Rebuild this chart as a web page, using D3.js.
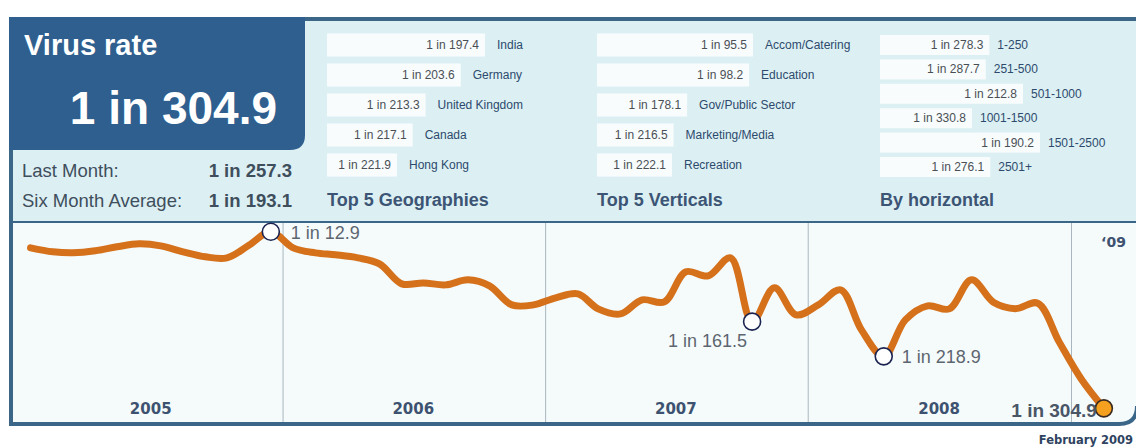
<!DOCTYPE html>
<html>
<head>
<meta charset="utf-8">
<script src="https://cdn.jsdelivr.net/npm/d3@7"></script>
<style>
  html, body { margin: 0; padding: 0; background: #ffffff; }
  svg { display: block; }
</style>
</head>
<body>
<svg id="chart" width="1136" height="448"></svg>
<script>
// ---------------- DATA ----------------
const currentRate = 304.9;
const lastMonth = 257.3;
const sixMonthAvg = 193.1;

// Monthly "1 in N" virus rate, Jan 2005 .. Feb 2009
const monthlyRates = [
  39.4, 46.0, 47.7, 44.4, 37.7, 32.8, 36.1, 46.0, 54.3, 56.0, 34.8, 12.9,
  39.4, 47.7, 51.0, 56.0, 65.9, 99.0, 97.4, 100.7, 92.4, 102.3, 133.8, 133.8,
  122.2, 115.6, 140.4, 148.7, 125.5, 128.8, 79.1, 85.8, 56.0, 161.5, 105.6, 150.3,
  133.8, 108.9, 175.2, 218.9, 158.6, 135.4, 140.4, 92.4, 130.0, 140.0, 131.0, 195.4,
  257.3, 304.9
];
const markedMonths = [11, 33, 39, 49];
const yearLabels = ["2005", "2006", "2007", "2008"];
const partialYearLabel = "\u201809";
const footerLabel = "February 2009";

const geoNames = ["India", "Germany", "United Kingdom", "Canada", "Hong Kong"];
const geoValues = [197.4, 203.6, 213.3, 217.1, 221.9];
const vertNames = ["Accom/Catering", "Education", "Gov/Public Sector", "Marketing/Media", "Recreation"];
const vertValues = [95.5, 98.2, 178.1, 216.5, 222.1];
const horizNames = ["1-250", "251-500", "501-1000", "1001-1500", "1501-2500", "2501+"];
const horizValues = [278.3, 287.7, 212.8, 330.8, 190.2, 276.1];

// ---------------- DRAW ----------------
const svg = d3.select("#chart");
const W = 1136, H = 448;
const C = {
  frame: "#3b6688", top: "#dcf0f4", chartBg: "#f5fbfb", box: "#2e5f8f",
  bar: "#f8fcfd", line: "#d5701b", gray: "#5d6670", label: "#3d5574", year: "#3d5270"
};
const sans = "'Liberation Sans', Arial, sans-serif";
const dv = "'DejaVu Sans', Verdana, sans-serif";

const fx0 = 11, fy0 = 19, fx1 = 1137, fy1 = 424, sepY = 222, rr = 18;

// top area
svg.append("rect").attr("x", fx0).attr("y", fy0).attr("width", fx1 - fx0).attr("height", sepY - fy0).attr("fill", C.top);
// chart area
svg.append("path")
  .attr("d", `M${fx0},${sepY} H${fx1} V${fy1 - rr} Q${fx1},${fy1} ${fx1 - rr},${fy1} H${fx0} Z`)
  .attr("fill", C.chartBg);

// scales
const x = d3.scaleTime()
  .domain([new Date(2005, 0, 1), new Date(2009, 0, 1)])
  .range([20.5, 1071.5]);
const y = d3.scaleLinear().domain([0, 330]).range([224, 423.5]);
const dates = monthlyRates.map((_, i) => new Date(2005, i, 15));

// year grid lines
const yearStarts = [2006, 2007, 2008, 2009].map(yr => new Date(yr, 0, 1));
svg.append("g").selectAll("line").data(yearStarts).join("line")
  .attr("x1", d => x(d)).attr("x2", d => x(d))
  .attr("y1", sepY).attr("y2", fy1)
  .attr("stroke", "#a9b6bf").attr("stroke-width", 1);

// year labels
svg.append("g").selectAll("text").data(yearLabels).join("text")
  .attr("x", d => x(new Date(+d, 6, 1)))
  .attr("y", 414)
  .attr("text-anchor", "middle")
  .attr("font-family", dv).attr("font-weight", "bold").attr("font-size", 15)
  .attr("fill", C.year).text(d => d);
svg.append("text").attr("x", x(new Date(2009, 0, 1)) + 42).attr("y", 247)
  .attr("text-anchor", "middle")
  .attr("font-family", dv).attr("font-weight", "bold").attr("font-size", 14)
  .attr("fill", C.year).text(partialYearLabel);

// line
const line = d3.line()
  .x((d, i) => x(dates[i]))
  .y(d => y(d))
  .curve(d3.curveCatmullRom.alpha(0.5));
svg.append("path").datum(monthlyRates)
  .attr("d", line)
  .attr("fill", "none").attr("stroke", C.line).attr("stroke-width", 7)
  .attr("stroke-linecap", "round").attr("stroke-linejoin", "round");

// frame borders
svg.append("path")
  .attr("d", `M${fx0},${fy0} H${W + 5} M${fx0},${fy0} V${fy1} H${fx1 - rr} Q${fx1},${fy1} ${fx1},${fy1 - rr}`)
  .attr("fill", "none").attr("stroke", C.frame).attr("stroke-width", 4);
svg.append("line").attr("x1", fx0).attr("x2", W).attr("y1", sepY).attr("y2", sepY)
  .attr("stroke", C.frame).attr("stroke-width", 2);

// markers
const labelPos = {
  11: { dx: 20, dy: 7, anchor: "start", size: 18, weight: "normal", fill: C.gray },
  33: { dx: -5, dy: 25, anchor: "end", size: 18, weight: "normal", fill: C.gray },
  39: { dx: 18, dy: 7, anchor: "start", size: 18, weight: "normal", fill: C.gray },
  49: { dx: -7, dy: 9, anchor: "end", size: 19, weight: "bold", fill: "#4a5666" }
};
const mk = svg.append("g").selectAll("g").data(markedMonths).join("g");
mk.append("circle")
  .attr("cx", i => x(dates[i])).attr("cy", i => y(monthlyRates[i]))
  .attr("r", 8.5)
  .attr("fill", (i, k) => k === markedMonths.length - 1 ? "#f5a01f" : "#ffffff")
  .attr("stroke", (i, k) => k === markedMonths.length - 1 ? "#3a2a20" : "#1b2350")
  .attr("stroke-width", 1.6);
mk.append("text")
  .attr("x", i => x(dates[i]) + labelPos[i].dx)
  .attr("y", i => y(monthlyRates[i]) + labelPos[i].dy)
  .attr("text-anchor", i => labelPos[i].anchor)
  .attr("font-family", sans).attr("font-size", i => labelPos[i].size)
  .attr("font-weight", i => labelPos[i].weight)
  .attr("fill", i => labelPos[i].fill)
  .text(i => "1 in " + monthlyRates[i]);

// footer
svg.append("text").attr("x", 1133).attr("y", 444).attr("text-anchor", "end")
  .attr("font-family", dv).attr("font-weight", "bold").attr("font-size", 11.5)
  .attr("fill", "#2f4360").text(footerLabel);

// headline box
svg.append("path")
  .attr("d", `M9,17 H305 V135 Q305,150 290,150 H9 Z`)
  .attr("fill", C.box);
svg.append("text").attr("x", 24).attr("y", 55)
  .attr("font-family", sans).attr("font-weight", "bold").attr("font-size", 29)
  .attr("fill", "#ffffff").text("Virus rate");
svg.append("text").attr("x", 277).attr("y", 124).attr("text-anchor", "end")
  .attr("font-family", sans).attr("font-weight", "bold").attr("font-size", 46)
  .attr("fill", "#ffffff").text("1 in " + currentRate);

const stats = [["Last Month:", lastMonth], ["Six Month Average:", sixMonthAvg]];
const sg = svg.append("g").selectAll("g").data(stats).join("g");
sg.append("text").attr("x", 22).attr("y", (d, i) => 177 + i * 30)
  .attr("font-family", sans).attr("font-size", 18.5).attr("fill", "#3f4e5c")
  .text(d => d[0]);
sg.append("text").attr("x", 292).attr("y", (d, i) => 177 + i * 30).attr("text-anchor", "end")
  .attr("font-family", sans).attr("font-weight", "bold").attr("font-size", 18.5).attr("fill", "#3f4e5c")
  .text(d => "1 in " + d[1]);

// tables
function table(names, values, x0, yc0, step, h, scale, gapLabel, title) {
  const g = svg.append("g");
  const rows = g.selectAll("g").data(values).join("g")
    .attr("transform", (d, i) => `translate(${x0},${yc0 + i * step})`);
  rows.append("rect").attr("x", 0).attr("y", -h / 2)
    .attr("width", d => scale(1000 / d)).attr("height", h)
    .attr("fill", C.bar);
  rows.append("text").attr("x", d => scale(1000 / d) - 6).attr("y", 4)
    .attr("text-anchor", "end").attr("font-family", sans).attr("font-size", 12)
    .attr("fill", "#4a4f55").text(d => "1 in " + d);
  rows.append("text").attr("x", d => scale(1000 / d) + gapLabel).attr("y", 4)
    .attr("font-family", sans).attr("font-size", 12)
    .attr("fill", "#2d4a6c").text((d, i) => names[i]);
  g.append("text").attr("x", x0).attr("y", 206)
    .attr("font-family", sans).attr("font-weight", "bold").attr("font-size", 18)
    .attr("fill", C.label).text(title);
}
const geoRates = geoValues.map(v => 1000 / v);
table(geoNames, geoValues, 327, 45, 30, 23,
  d3.scaleLinear().domain([d3.min(geoRates), d3.max(geoRates)]).range([70, 158]), 12, "Top 5 Geographies");
const vertRates = vertValues.map(v => 1000 / v);
table(vertNames, vertValues, 597, 45, 30, 23,
  d3.scaleLinear().domain([d3.min(vertRates), d3.max(vertRates)]).range([75, 156]), 12, "Top 5 Verticals");
const horizRates = horizValues.map(v => 1000 / v);
table(horizNames, horizValues, 880, 45, 24.4, 20,
  d3.scaleLinear().domain([0, d3.max(horizRates)]).range([0, 160]), 8, "By horizontal");
</script>
</body>
</html>
